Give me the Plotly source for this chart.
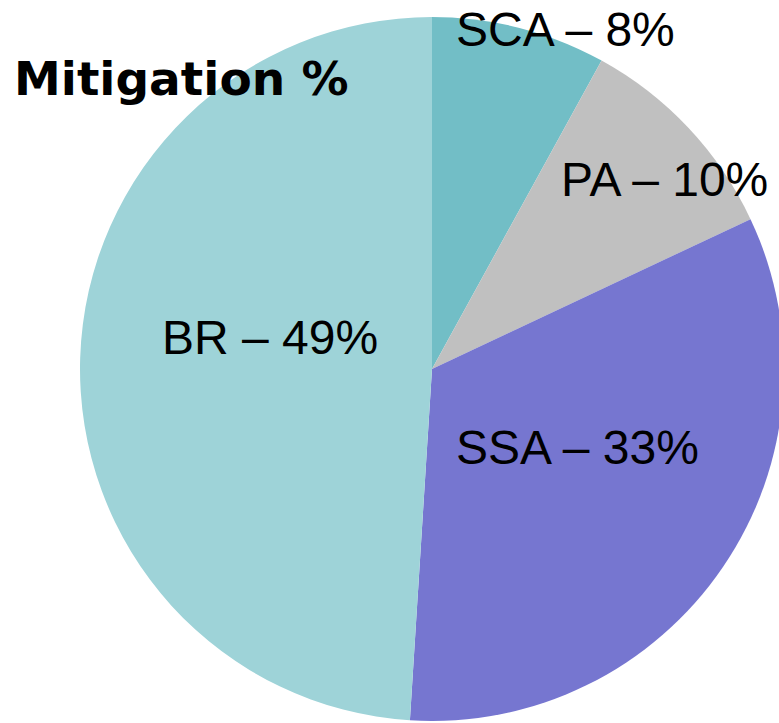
import plotly.graph_objects as go

# Data
categories = ["SCA", "PA", "SSA", "BR"]
values = [8, 10, 33, 49]
title_text = "Mitigation %"

# Styles
colors = ["#72BEC6", "#C0C0C0", "#7676D0", "#9ED3D8"]
label_pos = [(565, 29), (664, 179), (577, 447), (270, 338)]  # pixel centers

W, H = 864, 738
top, bottom = 17, 721

fig = go.Figure(
    go.Pie(
        labels=categories,
        values=values,
        sort=False,
        direction="clockwise",
        rotation=0,
        marker=dict(colors=colors, line=dict(width=0)),
        textinfo="none",
        hoverinfo="label+percent",
        showlegend=False,
        domain=dict(x=[0, 1], y=[(H - bottom) / H, (H - top) / H]),
    )
)

annotations = []
for cat, val, (px, py) in zip(categories, values, label_pos):
    annotations.append(
        dict(
            text=f"{cat} \u2013 {val}%",
            x=px / W, y=1 - py / H, xref="paper", yref="paper",
            xanchor="center", yanchor="middle", showarrow=False,
            font=dict(family="Liberation Sans, Arial, sans-serif", size=48, color="#000000"),
        )
    )
annotations.append(
    dict(
        text=f"<b>{title_text}</b>",
        x=181 / W, y=1 - 78 / H, xref="paper", yref="paper",
        xanchor="center", yanchor="middle", showarrow=False,
        font=dict(family="DejaVu Sans, sans-serif", size=47, color="#000000"),
    )
)

fig.update_layout(
    width=W, height=H,
    margin=dict(l=0, r=0, t=0, b=0),
    paper_bgcolor="white",
    plot_bgcolor="white",
    annotations=annotations,
)

fig.write_html(
    "out.html",
    config={"displayModeBar": False},
    post_script=(
        "document.body.style.margin='0';"
        "document.body.style.overflow='hidden';"
        "document.documentElement.style.overflow='hidden';"
    ),
)
